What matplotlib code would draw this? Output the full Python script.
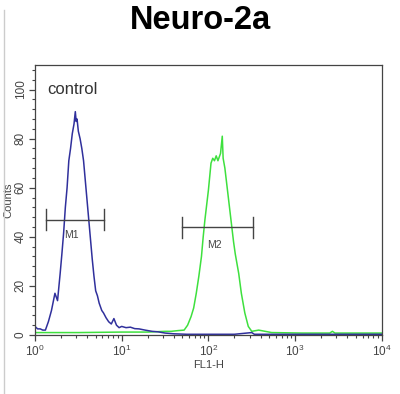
import numpy as np
import matplotlib
matplotlib.use("Agg")
import matplotlib.pyplot as plt
from matplotlib.lines import Line2D
from matplotlib.ticker import MultipleLocator, LogLocator, NullFormatter

plt.rcParams['font.family'] = ['Liberation Sans', 'DejaVu Sans']

# histogram: log10(FL1-H) vs counts
ctrl_log = [0.00, 0.03, 0.06, 0.09, 0.12, 0.155, 0.19, 0.23, 0.26, 0.29, 0.31, 0.33, 0.35,
            0.37, 0.39, 0.41, 0.43, 0.45, 0.465, 0.475, 0.485, 0.50, 0.52, 0.54, 0.56,
            0.58, 0.60, 0.62, 0.64, 0.66, 0.68, 0.70, 0.72, 0.74, 0.77, 0.79, 0.82,
            0.85, 0.88, 0.91, 0.94, 0.97, 1.00, 1.05, 1.10, 1.15, 1.20, 1.27, 1.35,
            1.42, 1.50, 1.60, 1.75, 2.00, 2.30, 2.50, 2.53, 2.60, 3.00, 3.50, 4.00]
ctrl_cnt = [3.5, 2.5, 2.5, 2.0, 2.0, 5.5, 10, 17, 14, 25, 33, 41.5, 52,
            60, 71, 76, 82, 86, 91, 87, 88, 83, 80, 76, 71,
            63, 55, 47, 39, 31, 24, 18, 16, 13, 10, 9, 7,
            5.4, 4.5, 6.7, 4.0, 3.0, 3.5, 3.0, 3.2, 2.6, 2.5, 2.0, 1.5,
            1.3, 0.8, 0.5, 0.3, 0.3, 0.3, 1.0, 0.3, 0.3, 0.3, 0.3, 0.3]

sample_log = [0.00, 0.50, 1.00, 1.30, 1.50, 1.57, 1.65, 1.72, 1.76, 1.80, 1.83, 1.86,
              1.89, 1.92, 1.94, 1.96, 1.98, 2.00, 2.03, 2.05, 2.07, 2.09, 2.11, 2.14,
              2.16, 2.17, 2.19, 2.21, 2.23, 2.25, 2.27, 2.29, 2.31, 2.33, 2.35, 2.38,
              2.40, 2.42, 2.46, 2.50, 2.58, 2.73, 3.08, 3.40, 3.43, 3.46, 4.00]
sample_cnt = [1.0, 1.0, 1.2, 1.2, 1.5, 1.5, 1.8, 2.0, 4.0, 7.5, 11, 17,
              24, 32, 40, 47, 53, 59, 70, 72, 71, 73, 71, 74,
              81, 72, 68, 62, 56, 50, 44, 38, 33, 29, 25, 17,
              13, 9, 3.5, 1.5, 2.0, 1.0, 0.8, 0.8, 1.5, 0.8, 0.8]

# marker regions: (name, log start, log end, count level, label count)
markers = [("M1", 0.124, 0.80, 46.9, 40.8),
           ("M2", 1.70, 2.52, 43.9, 36.7)]

fig = plt.figure(figsize=(4.0, 3.94), dpi=100)
ax = fig.add_axes([0.0875, 0.1497, 0.867, 0.6853])

ax.plot(10 ** np.array(sample_log), sample_cnt, color="#3ee03e", lw=1.1)
ax.plot(10 ** np.array(ctrl_log), ctrl_cnt, color="#30309c", lw=1.1)

for name, a, b, lvl, lab in markers:
    ax.plot([10 ** a, 10 ** b], [lvl, lvl], color="#444444", lw=1.0)
    ax.plot([10 ** a, 10 ** a], [lvl - 4.3, lvl + 4.3], color="#444444", lw=1.0)
    ax.plot([10 ** b, 10 ** b], [lvl - 4.3, lvl + 4.3], color="#444444", lw=1.0)
    ax.text(10 ** ((a + b) / 2 - 0.04), lab, name, ha="center", va="center",
            fontsize=7.5, color="#444444")

ax.text(1.38, 100, "control", fontsize=12, color="#333333", va="center")

ax.set_xscale("log")
ax.set_xlim(1, 1e4)
ax.set_ylim(0, 110)
ax.xaxis.set_major_locator(LogLocator(base=10, numticks=10))
ax.xaxis.set_minor_locator(LogLocator(base=10, subs=np.arange(2, 10), numticks=50))
ax.xaxis.set_minor_formatter(NullFormatter())
ax.yaxis.set_major_locator(MultipleLocator(20))
ax.yaxis.set_minor_locator(MultipleLocator(4))

ax.tick_params(axis="both", which="major", direction="out", length=4, width=0.9,
               colors="#444444", labelsize=8.5, top=False, right=False, pad=2)
ax.tick_params(axis="both", which="minor", direction="out", length=2.5, width=0.8,
               colors="#444444", top=False, right=False)
for lbl in ax.get_yticklabels():
    lbl.set_rotation(90)
    lbl.set_va("center")
for sp in ax.spines.values():
    sp.set_color("#444444")
    sp.set_linewidth(0.9)

ax.set_xlabel("FL1-H", fontsize=8, color="#444444", labelpad=1)
ax.set_ylabel("Counts", fontsize=8, color="#444444", labelpad=1)

fig.text(0.5, 0.947, "Neuro-2a", ha="center", va="center", fontsize=23.5,
         fontweight="bold", color="black")

# faint frame line of the original image
fig.add_artist(Line2D([0.009, 0.009], [0.0, 0.975], color="#cccccc", lw=1.0))

fig.savefig("out.png", dpi=100)
